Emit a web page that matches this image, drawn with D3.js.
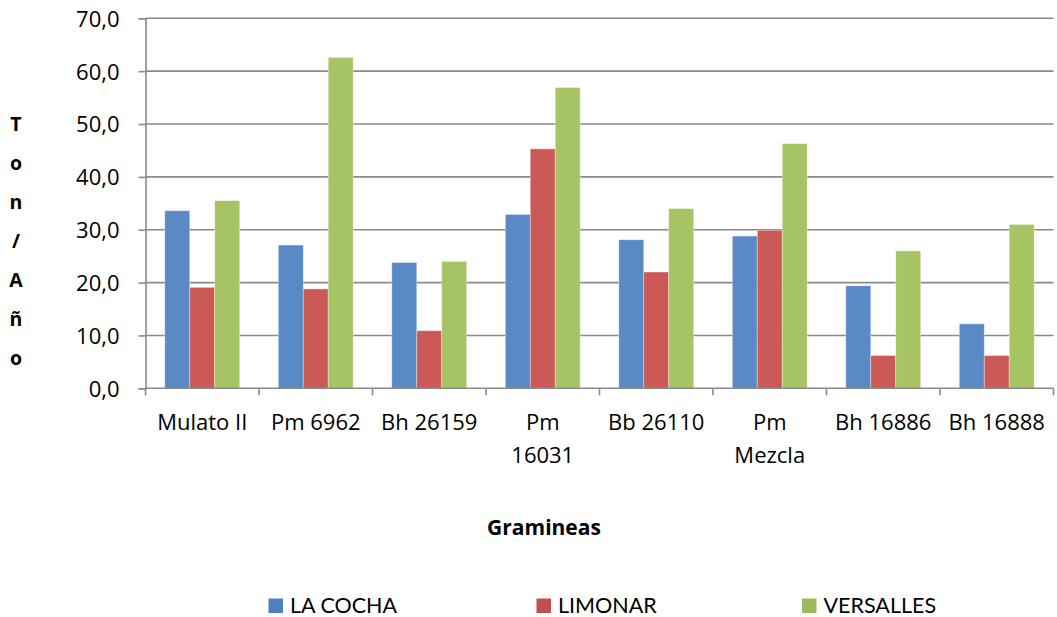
<!DOCTYPE html>
<html>
<head>
<meta charset="utf-8">
<script src="https://cdn.jsdelivr.net/npm/d3@7"></script>
<style>
  html, body { margin: 0; padding: 0; background: #fff; }
  svg { display: block; font-family: "Open Sans", Lato, sans-serif; }
</style>
</head>
<body>
<svg id="chart" width="1057" height="617"></svg>
<script>
// Forage yield per grass (ton/year) at three sites
const categories = ["Mulato II", "Pm 6962", "Bh 26159", "Pm 16031", "Bb 26110", "Pm Mezcla", "Bh 16886", "Bh 16888"];
const seriesNames = ["LA COCHA", "LIMONAR", "VERSALLES"];
const laCocha   = [33.6, 27.1, 23.8, 32.9, 28.1, 28.8, 19.4, 12.2];
const limonar   = [19.1, 18.8, 10.9, 45.3, 22.0, 29.9, 6.2, 6.2];
const versalles = [35.5, 62.6, 24.0, 56.9, 34.0, 46.3, 26.0, 31.0];
const yTicks = [0, 10, 20, 30, 40, 50, 60, 70];
const wrappedLabels = { "Pm 16031": ["Pm", "16031"], "Pm Mezcla": ["Pm", "Mezcla"] };
const yTitle = "Ton/Año";
const xTitle = "Gramineas";

const barColors = ["#5A8AC6", "#CB5A57", "#A6C464"];
const keyColors = ["#4F81BD", "#C0504D", "#9BBB59"];

const seriesValues = [laCocha, limonar, versalles];
const rows = categories.map((c, i) => ({
  category: c,
  values: seriesNames.map((s, k) => ({ series: s, value: seriesValues[k][i], k }))
}));

const svg = d3.select("#chart");
const plot = { left: 145.5, right: 1053.5, top: 18.3, bottom: 388.3 };

const x = d3.scaleBand().domain(categories).range([plot.left, plot.right]).padding(0);
const xInner = d3.scaleBand().domain(seriesNames)
  .range([x.bandwidth() * 0.17, x.bandwidth() * 0.83]).padding(0);
const y = d3.scaleLinear().domain([0, 70]).range([plot.bottom, plot.top]);

// horizontal gridlines
svg.append("g")
  .selectAll("line")
  .data(yTicks.filter(t => t > 0))
  .join("line")
  .attr("x1", plot.left).attr("x2", plot.right)
  .attr("y1", d => y(d)).attr("y2", d => y(d))
  .attr("stroke", "#8A8A8A").attr("stroke-width", 1.6);

// bars
const groups = svg.append("g").selectAll("g")
  .data(rows)
  .join("g")
  .attr("transform", d => `translate(${x(d.category)},0)`);

groups.selectAll("rect")
  .data(d => d.values)
  .join("rect")
  .attr("x", d => xInner(d.series))
  .attr("width", xInner.bandwidth())
  .attr("y", d => y(d.value))
  .attr("height", d => y(0) - y(d.value))
  .attr("fill", d => barColors[d.k])
  .attr("stroke", "rgba(255,255,255,0.45)")
  .attr("stroke-width", 0.8);

// y axis
const yAxis = d3.axisLeft(y)
  .tickValues(yTicks)
  .tickSize(7)
  .tickPadding(19)
  .tickFormat(d => d3.format(".1f")(d).replace(".", ","));

const gy = svg.append("g")
  .attr("transform", `translate(${plot.left},0)`)
  .call(yAxis);
gy.select(".domain").attr("stroke", "#8A8A8A").attr("stroke-width", 1.6);
gy.selectAll(".tick line").attr("stroke", "#8A8A8A").attr("stroke-width", 1.6);
gy.selectAll(".tick text")
  .attr("font-size", 22)
  .attr("font-family", "'Open Sans', sans-serif")
  .attr("fill", "#000")
  .attr("dy", "0.36em");

// x axis: ticks on band boundaries
const gx = svg.append("g")
  .attr("transform", `translate(0,${plot.bottom})`);
gx.append("line")
  .attr("x1", plot.left).attr("x2", plot.right)
  .attr("y1", 0).attr("y2", 0)
  .attr("stroke", "#8A8A8A").attr("stroke-width", 1.6);
const boundaries = categories.map(c => x(c)).concat([x.range()[1]]);
gx.selectAll("line.tk")
  .data(boundaries)
  .join("line")
  .attr("class", "tk")
  .attr("x1", d => d).attr("x2", d => d)
  .attr("y1", 0).attr("y2", 7)
  .attr("stroke", "#8A8A8A").attr("stroke-width", 1.6);

const xLabels = gx.selectAll("text.cat")
  .data(categories)
  .join("text")
  .attr("class", "cat")
  .attr("text-anchor", "middle")
  .attr("font-size", 22)
  .attr("fill", "#000")
  .attr("transform", d => `translate(${x(d) + x.bandwidth() / 2},0)`);
xLabels.each(function (d) {
  const lines = wrappedLabels[d] || [d];
  d3.select(this).selectAll("tspan")
    .data(lines)
    .join("tspan")
    .attr("x", 0)
    .attr("y", (l, i) => 41.7 + i * 32.7)
    .text(l => l);
});

// x axis title
svg.append("text")
  .attr("x", 544)
  .attr("y", 535)
  .attr("text-anchor", "middle")
  .attr("font-size", 21)
  .attr("font-weight", "bold")
  .attr("fill", "#000")
  .text(xTitle);

// y axis title, letters stacked vertically
const yt = svg.append("text")
  .attr("text-anchor", "middle")
  .attr("font-size", 19.5)
  .attr("font-weight", "bold")
  .attr("fill", "#000");
yt.selectAll("tspan")
  .data(Array.from(yTitle))
  .join("tspan")
  .attr("x", 16)
  .attr("y", (c, i) => 131 + i * 39)
  .text(c => c);

// legend
const legendX = [268.5, 536.5, 802];
const legend = svg.append("g").selectAll("g")
  .data(seriesNames)
  .join("g")
  .attr("transform", (d, i) => `translate(${legendX[i]},598.5)`);
legend.append("rect")
  .attr("width", 14.5).attr("height", 14.5)
  .attr("fill", (d, i) => keyColors[i]);
legend.append("text")
  .attr("x", 21.5)
  .attr("y", 14.5)
  .attr("font-size", 21.5)
  .attr("font-family", "Lato, sans-serif")
  .attr("fill", "#000")
  .text(d => d);
</script>
</body>
</html>
